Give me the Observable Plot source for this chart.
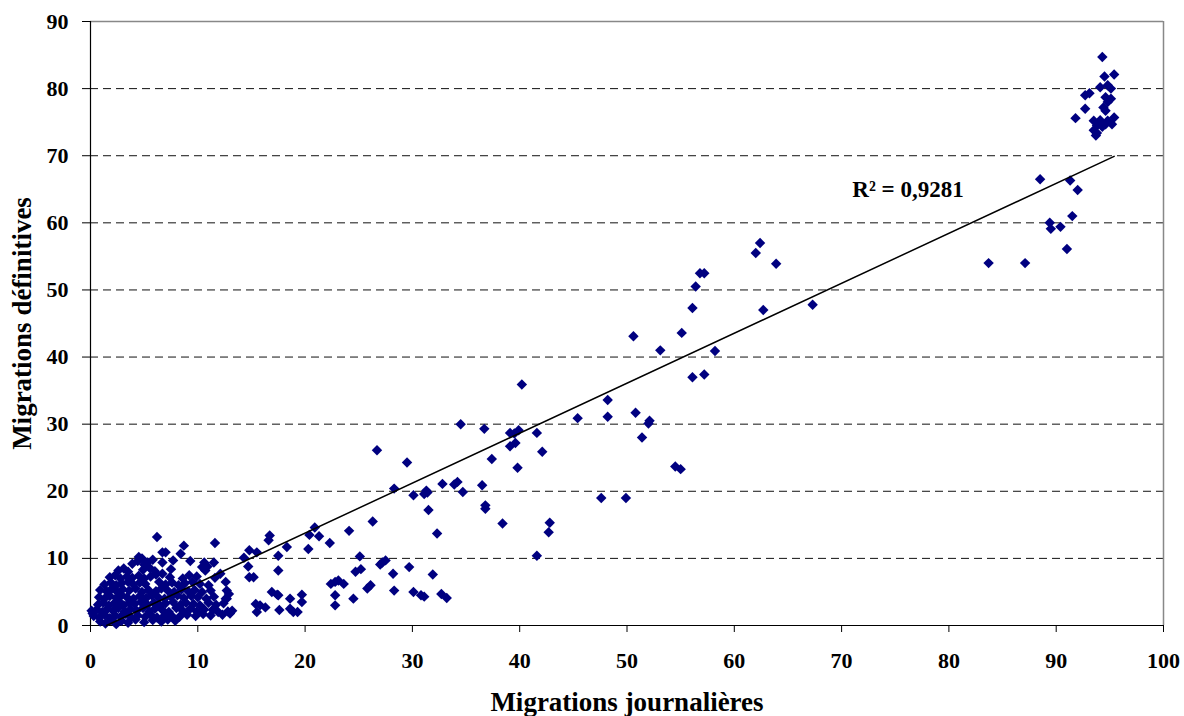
<!DOCTYPE html>
<html><head><meta charset="utf-8">
<script src="https://cdn.jsdelivr.net/npm/d3@7"></script>
<script src="https://cdn.jsdelivr.net/npm/@observablehq/plot@0.6"></script>
<style>body{margin:0;background:#fff;} #chart svg{display:block;}</style>
</head><body><div id="chart"></div>
<script>
// [migrations journalières, migrations définitives]
const clusterPoints = [
[0.9,0.6],[1.4,0.3],[1.9,0.8],[2.4,0.2],[2.9,0.7],[3.5,0.4],[4.2,0.9],[5.0,0.5],[5.8,0.8],[6.6,0.6],[7.2,0.9],[7.9,0.7],
[0.3,1.4],[0.8,1.2],[1.3,1.6],[1.8,1.1],[2.3,1.5],[2.8,1.3],[3.3,1.7],[3.8,1.2],[4.4,1.5],[5.1,1.3],[5.6,1.6],[6.2,1.2],[6.9,1.5],[7.6,1.4],[8.3,1.3],[9.0,1.6],[9.8,1.4],[10.5,1.7],[11.2,1.5],[12.3,1.6],[13.0,1.8],
[0.1,2.2],[0.6,2.4],[1.1,2.0],[1.6,2.5],[2.1,2.2],[2.6,2.6],[3.2,2.1],[3.7,2.4],[4.3,2.2],[4.9,2.6],[5.5,2.1],[6.0,2.5],[6.7,2.3],[7.3,2.0],[8.0,2.6],[8.6,2.2],[9.3,2.5],[9.9,2.1],[10.6,2.4],[11.4,2.3],[11.9,2.0],[12.8,2.1],
[0.7,3.1],[1.2,3.4],[1.7,3.0],[2.2,3.3],[2.7,3.5],[3.1,3.0],[3.6,3.4],[4.1,3.2],[4.7,3.5],[5.3,3.1],[5.9,3.4],[6.5,3.0],[7.0,3.3],[7.7,3.5],[8.4,3.1],[8.9,3.4],[9.6,3.2],[10.2,3.0],[11.0,3.4],[11.7,3.1],[12.4,3.3],
[0.8,4.2],[1.3,4.0],[1.8,4.4],[2.4,4.1],[2.9,4.5],[3.4,4.2],[4.0,4.0],[4.6,4.4],[5.2,4.1],[5.7,4.5],[6.3,4.2],[6.9,4.0],[7.5,4.3],[8.1,4.5],[8.7,4.1],[9.4,4.4],[10.0,4.2],[10.8,4.0],[11.5,4.3],[12.7,4.0],
[0.9,5.3],[1.5,5.1],[2.0,5.5],[2.5,5.0],[3.0,5.4],[3.6,5.2],[4.2,5.5],[4.8,5.0],[5.4,5.3],[6.1,5.1],[6.6,5.5],[7.2,5.2],[7.8,5.0],[8.5,5.4],[9.1,5.1],[9.7,5.3],[10.4,5.0],[11.2,5.2],[12.9,4.7],
[1.3,6.1],[1.9,6.4],[2.4,6.0],[2.9,6.3],[3.5,6.5],[4.0,6.1],[4.6,6.4],[5.1,6.2],[6.4,6.5],[7.0,6.1],[7.6,6.4],[8.2,6.0],[8.8,6.3],[9.5,6.5],[10.2,6.2],[11.0,6.0],[12.6,6.5],
[1.8,7.2],[2.3,7.5],[2.8,7.0],[3.4,7.3],[3.9,7.1],[4.5,7.4],[5.0,7.0],[5.6,7.3],[6.1,7.6],[6.7,7.7],[7.4,7.2],[8.6,7.0],[9.2,7.5],[9.9,7.3],[11.6,7.1],[12.1,7.7],
[2.6,8.2],[3.1,8.5],[3.5,8.0],[4.9,8.3],[5.5,8.6],[6.0,8.1],[7.5,8.4],[10.7,8.2],[10.4,8.7],[10.9,8.8],
[3.9,9.2],[4.4,9.6],[5.0,9.1],[5.3,9.4],[5.8,9.8],[6.7,9.4],[7.7,9.7],[9.3,9.6],[10.6,9.4],[11.5,9.4],[4.8,10.0],
[6.2,13.2],[6.7,10.9],[4.5,10.2],[8.7,11.9],[11.6,12.3],[8.4,10.7],[7.0,10.9],[13.2,2.2],[11.5,2.5],[12.7,5.2],[12.6,4.0],[0.2,1.8]
];
const middlePoints = [
[26.7,26.1],[29.5,24.3],[28.3,20.4],[32.8,21.1],[33.9,21.0],[34.2,21.4],[36.5,20.9],[30.1,19.4],[31.1,19.6],[31.3,20.1],[31.4,19.8],[31.5,17.2],[34.7,19.9],[36.8,17.4],[36.8,17.9],[32.3,13.7],[26.3,15.5],[24.1,14.1],[22.3,12.3],[21.3,13.3],[20.9,14.6],[20.4,13.5],[20.3,11.4],[18.3,11.7],[16.7,13.4],[16.6,12.7],[17.5,10.4],[14.8,11.2],[15.5,10.9],[14.3,10.1],[14.7,8.8],[14.8,7.2],[15.2,7.2],[17.5,8.2],[25.1,10.3],[25.2,8.4],[24.7,8.0],[27.2,9.4],[27.5,9.7],[27.0,9.1],[29.7,8.7],[28.2,7.7],[31.9,7.6],[22.4,6.2],[22.8,6.5],[23.1,6.7],[23.6,6.2],[22.8,4.5],[22.8,3.0],[24.5,4.0],[25.8,5.5],[26.1,6.0],[28.3,5.2],[30.1,5.0],[30.8,4.5],[31.1,4.3],[32.7,4.7],[33.2,4.1],[16.9,5.0],[17.4,4.6],[17.5,4.5],[18.6,4.0],[19.7,4.6],[19.7,3.5],[15.4,3.2],[15.8,3.0],[16.3,2.7],[15.5,2.0],[17.6,2.3],[18.6,2.5],[18.9,2.0],[19.3,2.0],
[62.4,57.0],[62.0,55.5],[63.9,53.9],[56.8,52.5],[57.2,52.5],[56.4,50.5],[56.1,47.3],[62.7,47.0],[67.3,47.8],[50.6,43.1],[55.1,43.6],[53.1,41.0],[58.2,40.9],[56.1,37.0],[57.2,37.4],[40.2,35.9],[48.2,33.6],[48.2,31.1],[45.4,30.9],[50.8,31.7],[52.1,30.5],[52.0,30.1],[51.4,28.0],[36.7,29.3],[34.5,30.0],[39.1,28.7],[39.5,28.6],[39.9,29.1],[39.6,27.2],[39.1,26.7],[41.6,28.7],[42.1,25.9],[37.4,24.8],[39.8,23.5],[54.5,23.7],[55.0,23.3],[38.4,15.2],[42.8,15.3],[42.7,13.9],[41.6,10.4],[47.6,19.0],[49.9,19.0]
];
const highPoints = [
[94.3,84.7],[94.5,81.8],[95.4,82.1],[94.1,80.2],[94.8,80.5],[95.1,80.0],[92.7,79.0],[93.1,79.3],[94.6,78.7],[95.1,78.5],[94.8,78.0],[92.7,77.0],[94.4,77.2],[94.6,76.7],[91.8,75.6],[93.5,75.2],[94.1,75.3],[94.8,75.2],[95.4,75.7],[95.2,74.7],[93.8,74.5],[94.6,74.7],[94.3,74.3],[93.5,73.8],[93.7,73.0],[93.8,73.4],[88.5,66.5],[91.3,66.3],[92.0,64.9],[91.5,61.0],[89.4,60.0],[89.5,59.1],[90.4,59.4],[91.0,56.1],[83.7,54.0],[87.1,54.0]
];
// linear trend line
const trendX = [1.5, 95.4];
const trendY = [0, 69.9];
const r2Label = "R² = 0,9281";
const xTicks = [0,10,20,30,40,50,60,70,80,90,100];
const yTicks = [0,10,20,30,40,50,60,70,80,90];
const gridValues = [10,20,30,40,50,60,70,80];
const xTitle = "Migrations journalières";
const yTitle = "Migrations définitives";

const points = [...clusterPoints, ...middlePoints, ...highPoints].map(([x, y]) => ({x, y}));
const trend = trendX.map((x, i) => ({x, y: trendY[i]}));

const chart = Plot.plot({
  width: 1184,
  height: 716,
  marginLeft: 90,
  marginRight: 21,
  marginTop: 21,
  marginBottom: 91,
  style: {fontFamily: "'Liberation Serif', 'Times New Roman', serif", fontWeight: "bold", fontSize: "22px", color: "#000", background: "#fff"},
  x: {domain: [0, 100]},
  y: {domain: [0, 90]},
  marks: [
    Plot.ruleY(gridValues, {stroke: "#111", strokeWidth: 1, strokeDasharray: "8,5"}),
    Plot.ruleY([90], {stroke: "#888", strokeWidth: 1.5}),
    Plot.ruleX([100], {stroke: "#888", strokeWidth: 1.5}),
    Plot.axisY({ticks: yTicks, tickSize: 8, tickPadding: 14, label: null, stroke: "#000", fontSize: 22, fontWeight: "bold"}),
    Plot.axisX({ticks: xTicks, tickSize: 7, tickPadding: 20, label: null, stroke: "#000", fontSize: 22, fontWeight: "bold"}),
    Plot.ruleX([0], {stroke: "#000", strokeWidth: 1.2}),
    Plot.ruleY([0], {stroke: "#000", strokeWidth: 1.2}),
    Plot.dot(points, {x: "x", y: "y", symbol: "diamond2", r: 4.7, fill: "#000080", stroke: "none"}),
    Plot.line(trend, {x: "x", y: "y", stroke: "#000", strokeWidth: 1.5}),
    Plot.text([r2Label], {x: 71, y: 65, text: d => d, textAnchor: "start", fontSize: 23, fontWeight: "bold", fill: "#000"}),
    Plot.text([xTitle], {frameAnchor: "bottom", dy: 77, text: d => d, textAnchor: "middle", lineAnchor: "middle", fontSize: 27, fontWeight: "bold", fill: "#000"}),
    Plot.text([yTitle], {frameAnchor: "left", dx: -68, rotate: -90, text: d => d, textAnchor: "middle", lineAnchor: "middle", fontSize: 27, fontWeight: "bold", fill: "#000"})
  ]
});
document.getElementById("chart").appendChild(chart);
</script>
</body></html>
